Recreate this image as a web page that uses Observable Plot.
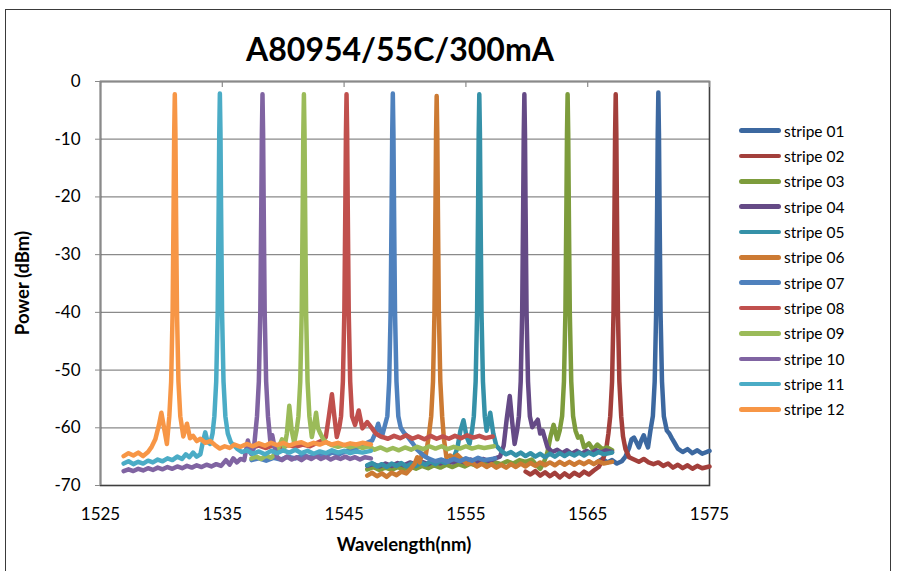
<!DOCTYPE html>
<html><head><meta charset="utf-8">
<script src="https://cdn.jsdelivr.net/npm/d3@7"></script>
<script src="https://cdn.jsdelivr.net/npm/@observablehq/plot@0.6"></script>
<style>
html,body{margin:0;padding:0;background:#fff;}
#chart{position:relative;width:898px;height:571px;overflow:hidden;font-family:Lato,"Open Sans",sans-serif;color:#000;}
#border{position:absolute;left:5px;top:9px;width:886px;height:620px;border:1.5px solid #3a3a3a;box-sizing:border-box;}
#plot{position:absolute;left:0;top:0;}
#title{position:absolute;left:0;width:800px;top:33px;text-align:center;font-weight:700;font-size:32px;line-height:32px;white-space:nowrap;}
#xlabel{position:absolute;left:304px;width:200px;top:535px;text-align:center;font-weight:700;font-size:18.5px;line-height:18px;}
#ylabel{position:absolute;left:22px;top:283px;transform:translate(-50%,-50%) rotate(-90deg);font-weight:700;font-size:18.5px;line-height:18px;white-space:nowrap;}
#legend{position:absolute;left:739px;top:118px;}
.row{position:relative;height:25.35px;display:flex;align-items:center;}
.sw{width:42px;height:4.5px;border-radius:3px;}
.lb{margin-left:3px;font-size:15.5px;line-height:16px;white-space:nowrap;}
</style>
</head><body>
<div id="chart">
  <div id="border"></div>
  <div id="plot"></div>
  <div id="title">A80954/55C/300mA</div>
  <div id="xlabel">Wavelength(nm)</div>
  <div id="ylabel">Power (dBm)</div>
  <div id="legend"></div>
</div>
<script>
const names = ["stripe 01","stripe 02","stripe 03","stripe 04","stripe 05","stripe 06","stripe 07","stripe 08","stripe 09","stripe 10","stripe 11","stripe 12"];
const colors = ["#3C68A0","#A33F3B","#7D9C3C","#654A86","#3591A8","#CC7A33","#4F81BD","#C0504D","#9BBB59","#8064A2","#4BACC6","#F79646"];
const xTicks = [1525,1535,1545,1555,1565,1575];
const yTicks = [0,-10,-20,-30,-40,-50,-60,-70];
const gridTicks = [-10,-20,-30,-40,-50,-60];

const s01 = [[1565.8,-65.9],[1566.2,-65.4],[1566.6,-66.0],[1567.0,-65.6],[1567.4,-66.2],[1567.8,-65.8],[1568.1,-65.0],[1568.4,-63.5],[1568.6,-62.0],[1568.8,-61.7],[1569.0,-62.5],[1569.2,-63.4],[1569.4,-62.2],[1569.6,-61.3],[1569.8,-62.6],[1569.95,-63.4],[1570.15,-60.5],[1570.35,-58],[1570.5,-52],[1570.62,-40],[1570.7,-22],[1570.75,-9],[1570.8,-1.9],[1570.85,-9],[1570.9,-22],[1570.98,-40],[1571.1,-52],[1571.25,-58],[1571.5,-60.5],[1571.7,-61.0],[1571.9,-61.8],[1572.1,-62.5],[1572.4,-63.6],[1572.8,-64.2],[1573.2,-63.7],[1573.6,-64.4],[1574.0,-63.9],[1574.4,-64.5],[1575.0,-64.0]];

const s02 = [[1559.9,-67.6],[1560.3,-68.1],[1560.7,-67.5],[1561.1,-68.3],[1561.5,-67.7],[1561.9,-68.4],[1562.3,-67.8],[1562.7,-68.6],[1563.1,-67.9],[1563.5,-68.5],[1563.9,-67.8],[1564.3,-68.3],[1564.7,-67.6],[1565.1,-68.1],[1565.5,-67.4],[1565.9,-66.8],[1566.2,-65.7],[1566.5,-64.0],[1566.7,-61],[1566.85,-58],[1567.0,-52],[1567.12,-40],[1567.2,-22],[1567.25,-9],[1567.3,-2.2],[1567.35,-9],[1567.4,-22],[1567.48,-40],[1567.6,-52],[1567.75,-58],[1567.9,-61.5],[1568.1,-63.7],[1568.4,-65.1],[1568.8,-65.5],[1569.2,-65.9],[1569.6,-65.4],[1570.0,-66.0],[1570.4,-66.3],[1570.8,-66.0],[1571.2,-66.6],[1571.6,-66.2],[1572.0,-66.9],[1572.4,-66.4],[1572.8,-67.0],[1573.2,-66.5],[1573.6,-67.1],[1574.0,-66.6],[1574.4,-67.0],[1575.0,-66.7]];

const s03 = [[1546.9,-67.2],[1547.4,-66.8],[1547.9,-67.3],[1548.4,-66.9],[1548.9,-67.3],[1549.4,-66.8],[1549.9,-67.2],[1550.4,-66.7],[1550.9,-67.1],[1551.4,-66.6],[1551.9,-67.0],[1552.4,-66.5],[1552.9,-66.9],[1553.4,-66.4],[1553.9,-66.8],[1554.4,-66.3],[1554.9,-66.7],[1555.4,-66.2],[1555.9,-66.6],[1556.4,-66.1],[1556.9,-66.5],[1557.4,-66.0],[1557.9,-66.3],[1558.4,-65.8],[1558.9,-66.2],[1559.4,-65.6],[1559.9,-65.9],[1560.4,-65.5],[1560.8,-66.5],[1561.1,-67.1],[1561.4,-66.0],[1561.7,-64.2],[1561.95,-61.5],[1562.2,-59.5],[1562.5,-62],[1562.7,-60.5],[1562.9,-58],[1563.05,-52],[1563.17,-40],[1563.25,-22],[1563.3,-9],[1563.35,-2.2],[1563.4,-9],[1563.45,-22],[1563.53,-40],[1563.65,-52],[1563.8,-58],[1564.0,-60.5],[1564.2,-61.7],[1564.45,-61.5],[1564.7,-63.4],[1565.1,-62.7],[1565.45,-63.8],[1565.8,-62.9],[1566.2,-63.7],[1566.6,-63.4],[1567.0,-63.9]];

const s04 = [[1546.9,-66.6],[1547.4,-66.3],[1547.9,-66.7],[1548.4,-66.2],[1548.9,-66.6],[1549.4,-66.1],[1549.9,-66.5],[1550.4,-66.0],[1550.9,-66.4],[1551.4,-65.9],[1551.9,-66.3],[1552.4,-65.8],[1552.9,-66.2],[1553.4,-65.7],[1553.9,-66.0],[1554.4,-65.6],[1554.9,-66.0],[1555.4,-65.5],[1555.9,-65.9],[1556.4,-65.4],[1556.9,-65.8],[1557.4,-65.3],[1557.8,-65.0],[1558.1,-63.1],[1558.35,-58.5],[1558.6,-54.5],[1558.8,-59],[1559.0,-62.8],[1559.2,-60.5],[1559.35,-58],[1559.5,-52],[1559.62,-40],[1559.7,-22],[1559.75,-9],[1559.8,-2.2],[1559.85,-9],[1559.9,-22],[1559.98,-40],[1560.1,-52],[1560.25,-58],[1560.45,-59.9],[1560.9,-58.6],[1561.1,-61],[1561.3,-60.5],[1561.7,-63.4],[1562.1,-64.2],[1562.5,-63.8],[1562.9,-64.4],[1563.3,-63.9],[1563.7,-64.5],[1564.1,-64.0],[1564.5,-64.5],[1564.9,-64.0],[1565.3,-64.4],[1565.7,-63.9],[1566.1,-64.3],[1566.5,-63.9],[1567.0,-64.2]];

const s05 = [[1546.9,-66.5],[1547.3,-66.1],[1547.7,-66.7],[1548.1,-66.3],[1548.5,-66.8],[1548.9,-66.2],[1549.3,-66.6],[1549.7,-66.1],[1550.1,-66.7],[1550.5,-66.2],[1550.9,-66.6],[1551.3,-66.0],[1551.7,-66.4],[1552.1,-65.8],[1552.5,-66.3],[1552.9,-65.7],[1553.3,-66.1],[1553.7,-65.6],[1554.0,-65.2],[1554.3,-63.5],[1554.55,-60.5],[1554.8,-58.7],[1555.05,-61.5],[1555.3,-62.8],[1555.5,-60.5],[1555.65,-58],[1555.8,-52],[1555.92,-40],[1556.0,-22],[1556.05,-9],[1556.1,-2.2],[1556.15,-9],[1556.2,-22],[1556.28,-40],[1556.4,-52],[1556.55,-58],[1556.7,-60.5],[1557.0,-57.4],[1557.25,-61],[1557.5,-63.1],[1557.9,-64.0],[1558.3,-64.6],[1558.7,-64.2],[1559.1,-64.8],[1559.5,-64.3],[1559.9,-64.9],[1560.3,-64.4],[1560.7,-65.0],[1561.1,-64.5],[1561.5,-65.1],[1561.9,-64.5],[1562.3,-65.0],[1562.7,-64.4],[1563.1,-64.9],[1563.5,-64.4],[1563.9,-64.8],[1564.3,-64.3],[1564.7,-64.8],[1565.1,-64.3],[1565.5,-64.7],[1565.9,-64.2],[1566.3,-64.6],[1567.0,-64.3]];

const s06 = [[1546.9,-68.3],[1547.3,-67.8],[1547.7,-68.4],[1548.1,-67.9],[1548.5,-68.5],[1548.9,-67.8],[1549.3,-68.2],[1549.7,-67.6],[1550.1,-67.9],[1550.5,-67.0],[1550.8,-66.2],[1551.0,-65.1],[1551.2,-66.0],[1551.4,-64.5],[1551.7,-64.8],[1551.95,-61.5],[1552.15,-58],[1552.3,-52],[1552.42,-40],[1552.5,-22],[1552.55,-9],[1552.6,-2.5],[1552.65,-9],[1552.7,-22],[1552.78,-40],[1552.9,-52],[1553.05,-58],[1553.2,-62],[1553.4,-65.1],[1553.7,-64.8],[1554.0,-65.2],[1554.3,-64.7],[1554.7,-65.5],[1555.1,-66.3],[1555.5,-66.0],[1555.9,-66.7],[1556.3,-66.2],[1556.7,-66.8],[1557.1,-66.3],[1557.5,-66.9],[1557.9,-66.4],[1558.3,-66.9],[1558.7,-66.3],[1559.1,-66.8],[1559.5,-66.2],[1559.9,-66.7],[1560.3,-66.1],[1560.7,-66.6],[1561.1,-66.0],[1561.5,-66.5],[1561.9,-66.0],[1562.3,-66.5],[1562.7,-65.9],[1563.1,-66.4],[1563.5,-65.9],[1563.9,-66.4],[1564.3,-65.9],[1564.7,-66.3],[1565.1,-65.8],[1565.5,-66.3],[1565.9,-65.8],[1566.3,-66.2],[1567.0,-65.9]];

const s07 = [[1537.4,-65.6],[1538.0,-65.3],[1538.6,-65.7],[1539.2,-65.2],[1539.8,-65.5],[1540.4,-65.0],[1541.0,-65.3],[1541.6,-64.8],[1542.2,-65.1],[1542.8,-64.6],[1543.4,-64.9],[1544.0,-64.3],[1544.6,-64.6],[1545.2,-64.0],[1545.8,-63.7],[1546.4,-63.2],[1546.9,-62.6],[1547.3,-62.2],[1547.55,-61.0],[1547.8,-59.3],[1548.1,-61.6],[1548.3,-60],[1548.55,-58],[1548.7,-52],[1548.82,-40],[1548.9,-22],[1548.95,-9],[1549.0,-2.1],[1549.05,-9],[1549.1,-22],[1549.18,-40],[1549.3,-52],[1549.45,-58],[1549.65,-60],[1549.9,-60.8],[1550.2,-61.5],[1550.6,-62.6],[1551.0,-63.8],[1551.5,-64.8],[1552.0,-65.4],[1552.5,-65.8],[1553.0,-65.5],[1553.5,-65.9],[1554.0,-65.4],[1554.5,-65.8],[1555.0,-65.3],[1555.5,-65.7],[1556.0,-65.2],[1556.5,-65.6],[1557.4,-65.3]];

const s08 = [[1537.4,-63.4],[1538.0,-63.1],[1538.6,-63.5],[1539.2,-63.0],[1539.8,-63.4],[1540.4,-63.0],[1541.0,-63.3],[1541.6,-62.9],[1542.2,-63.2],[1542.8,-62.6],[1543.2,-62.2],[1543.5,-61.6],[1543.75,-58],[1544.0,-54.2],[1544.2,-58],[1544.4,-61.6],[1544.6,-60],[1544.75,-58],[1544.9,-52],[1545.02,-40],[1545.1,-22],[1545.15,-9],[1545.2,-2.2],[1545.25,-9],[1545.3,-22],[1545.38,-40],[1545.5,-52],[1545.65,-58],[1545.9,-59.5],[1546.2,-57.0],[1546.5,-60.1],[1546.9,-59.0],[1547.3,-60.1],[1547.6,-61.0],[1548.0,-61.5],[1548.6,-61.9],[1549.1,-61.4],[1549.6,-61.8],[1550.1,-61.3],[1550.6,-61.9],[1551.1,-61.5],[1551.6,-62.0],[1552.1,-61.4],[1552.6,-61.9],[1553.1,-61.5],[1553.6,-61.9],[1554.1,-61.4],[1554.6,-61.8],[1555.1,-61.3],[1555.6,-61.7],[1556.1,-61.4],[1556.6,-61.8],[1557.2,-61.5]];

const s09 = [[1537.4,-65.3],[1537.8,-65.0],[1538.2,-65.4],[1538.6,-64.8],[1539.0,-65.2],[1539.4,-64.4],[1539.7,-63.0],[1539.9,-62.0],[1540.1,-63.5],[1540.3,-61.0],[1540.5,-56.2],[1540.7,-60.5],[1540.9,-62.6],[1541.1,-60.5],[1541.25,-58],[1541.4,-52],[1541.52,-40],[1541.6,-22],[1541.65,-9],[1541.7,-2.2],[1541.75,-9],[1541.8,-22],[1541.88,-40],[1542.0,-52],[1542.15,-58],[1542.35,-61.6],[1542.55,-59.5],[1542.7,-57.4],[1542.85,-60],[1543.05,-61.0],[1543.3,-62.0],[1543.6,-62.6],[1544.0,-63.0],[1544.5,-63.3],[1545.0,-63.0],[1545.5,-63.4],[1546.0,-63.1],[1546.5,-63.5],[1547.0,-63.2],[1547.5,-63.8],[1548.0,-63.4],[1548.5,-63.9],[1549.0,-63.5],[1549.5,-63.9],[1550.0,-63.4],[1550.5,-63.8],[1551.0,-63.3],[1551.5,-63.7],[1552.0,-63.2],[1552.5,-63.6],[1553.0,-63.2],[1553.5,-63.7],[1554.0,-63.3],[1554.5,-63.6],[1555.0,-63.2],[1555.5,-63.6],[1556.0,-63.3],[1556.5,-63.5],[1557.3,-63.2]];

const s10 = [[1526.9,-67.5],[1527.3,-67.2],[1527.7,-67.5],[1528.1,-67.1],[1528.5,-67.4],[1528.9,-67.0],[1529.3,-67.3],[1529.7,-66.9],[1530.1,-67.2],[1530.5,-66.8],[1530.9,-67.1],[1531.3,-66.7],[1531.7,-67.0],[1532.1,-66.6],[1532.5,-66.9],[1532.9,-66.5],[1533.3,-66.8],[1533.7,-66.4],[1534.1,-66.7],[1534.5,-66.3],[1534.9,-66.6],[1535.3,-65.6],[1535.6,-66.4],[1535.9,-65.3],[1536.2,-66.0],[1536.5,-65.4],[1536.8,-65.6],[1537.1,-62.2],[1537.35,-64.5],[1537.6,-63.5],[1537.85,-58],[1538.0,-52],[1538.12,-40],[1538.2,-22],[1538.25,-9],[1538.3,-2.2],[1538.35,-9],[1538.4,-22],[1538.48,-40],[1538.6,-52],[1538.75,-58],[1538.95,-62.5],[1539.1,-61.3],[1539.3,-63.5],[1539.5,-65.1],[1539.9,-65.6],[1540.3,-65.0],[1540.7,-65.5],[1541.1,-65.1],[1541.5,-65.6],[1541.9,-65.0],[1542.3,-65.4],[1542.7,-64.9],[1543.1,-65.4],[1543.5,-65.0],[1543.9,-65.5],[1544.3,-65.1],[1544.7,-65.4],[1545.1,-65.0],[1545.5,-65.4],[1545.9,-65.1],[1546.3,-65.5],[1546.7,-65.1],[1547.2,-65.3]];

const s11 = [[1526.9,-66.2],[1527.3,-65.8],[1527.7,-66.3],[1528.1,-65.9],[1528.5,-66.2],[1528.9,-65.7],[1529.3,-66.0],[1529.7,-65.5],[1530.1,-65.8],[1530.5,-65.3],[1530.9,-65.6],[1531.3,-65.0],[1531.7,-65.4],[1532.0,-64.6],[1532.3,-65.1],[1532.6,-64.3],[1532.9,-65.0],[1533.2,-64.6],[1533.4,-62.5],[1533.6,-60.8],[1533.8,-62.5],[1534.0,-62.8],[1534.2,-61],[1534.35,-58],[1534.5,-52],[1534.62,-40],[1534.7,-22],[1534.75,-9],[1534.8,-2.1],[1534.85,-9],[1534.9,-22],[1534.98,-40],[1535.1,-52],[1535.25,-58],[1535.45,-61],[1535.7,-62.5],[1536.2,-63.6],[1536.6,-64.2],[1537.0,-63.9],[1537.5,-64.5],[1538.0,-64.1],[1538.5,-64.6],[1539.0,-64.0],[1539.5,-64.4],[1540.0,-63.9],[1540.5,-64.3],[1541.0,-63.8],[1541.5,-64.4],[1542.0,-64.0],[1542.5,-64.5],[1543.0,-64.1],[1543.5,-64.4],[1544.0,-63.9],[1544.5,-64.3],[1545.0,-64.0],[1545.5,-64.4],[1546.0,-64.1],[1546.5,-64.3],[1547.2,-64.0]];

const s12 = [[1526.9,-64.9],[1527.3,-64.4],[1527.7,-64.8],[1528.1,-64.3],[1528.5,-64.9],[1528.9,-64.2],[1529.2,-63.3],[1529.5,-62.0],[1529.8,-59.5],[1530.0,-57.4],[1530.2,-59.8],[1530.45,-62.8],[1530.65,-58],[1530.8,-52],[1530.92,-40],[1531.0,-22],[1531.05,-9],[1531.1,-2.2],[1531.15,-9],[1531.2,-22],[1531.28,-40],[1531.4,-52],[1531.55,-58],[1531.8,-61.5],[1532.1,-59.3],[1532.35,-61.8],[1532.6,-61.4],[1532.9,-62.3],[1533.2,-61.9],[1533.6,-62.6],[1534.0,-62.3],[1534.4,-63.0],[1534.8,-63.6],[1535.2,-63.2],[1535.6,-63.5],[1536.0,-62.9],[1536.5,-63.3],[1537.0,-62.8],[1537.5,-63.2],[1538.0,-62.7],[1538.5,-63.1],[1539.0,-62.6],[1539.5,-63.0],[1540.0,-62.6],[1540.5,-63.1],[1541.0,-62.7],[1541.5,-62.5],[1542.0,-63.0],[1542.5,-62.6],[1543.0,-62.9],[1543.5,-62.5],[1544.0,-62.9],[1544.5,-62.6],[1545.0,-63.0],[1545.5,-62.7],[1546.0,-62.9],[1546.5,-62.6],[1547.2,-62.9]];

const series = [s01,s02,s03,s04,s05,s06,s07,s08,s09,s10,s11,s12];
const rows = series.flatMap((s, i) => s.map(([wl, p]) => ({stripe: names[i], wl, p})));

const chart = Plot.plot({
  width: 898,
  height: 571,
  marginLeft: 100,
  marginRight: 189,
  marginTop: 81,
  marginBottom: 86,
  style: {fontFamily: "Lato, 'Open Sans', sans-serif", fontSize: "17px", color: "#000", background: "transparent"},
  x: {domain: [1525, 1575], label: null},
  y: {domain: [-70, 0], label: null},
  color: {domain: names, range: colors},
  marks: [
    Plot.ruleY(gridTicks, {stroke: "#8a8a8a", strokeWidth: 1.2}),
    Plot.frame({stroke: "#3f3f3f", strokeWidth: 1.6}),
    Plot.ruleX([xTicks[0]], {stroke: "#8a8a8a", strokeWidth: 1.6}),
    Plot.ruleY([yTicks[0]], {stroke: "#8a8a8a", strokeWidth: 1.6}),
    Plot.ruleX(xTicks, {stroke: "#8a8a8a", strokeWidth: 1.2, insetBottom: 398}),
    Plot.axisY({ticks: yTicks, tickSize: 5, tickPadding: 15, tickFormat: d => String(d), stroke: "#8a8a8a", label: null}),
    Plot.axisX({ticks: xTicks, tickSize: 0, tickPadding: 22, tickFormat: d => String(d), label: null}),
    Plot.line(rows, {x: "wl", y: "p", z: "stripe", stroke: "stripe", strokeWidth: 4.5, strokeLinejoin: "round", strokeLinecap: "round"})
  ]
});
document.getElementById("plot").appendChild(chart);

const legend = document.getElementById("legend");
names.forEach((n, i) => {
  const row = document.createElement("div");
  row.className = "row";
  const sw = document.createElement("div");
  sw.className = "sw";
  sw.style.background = colors[i];
  const lb = document.createElement("span");
  lb.className = "lb";
  lb.textContent = n;
  row.appendChild(sw);
  row.appendChild(lb);
  legend.appendChild(row);
});
</script>
</body></html>
